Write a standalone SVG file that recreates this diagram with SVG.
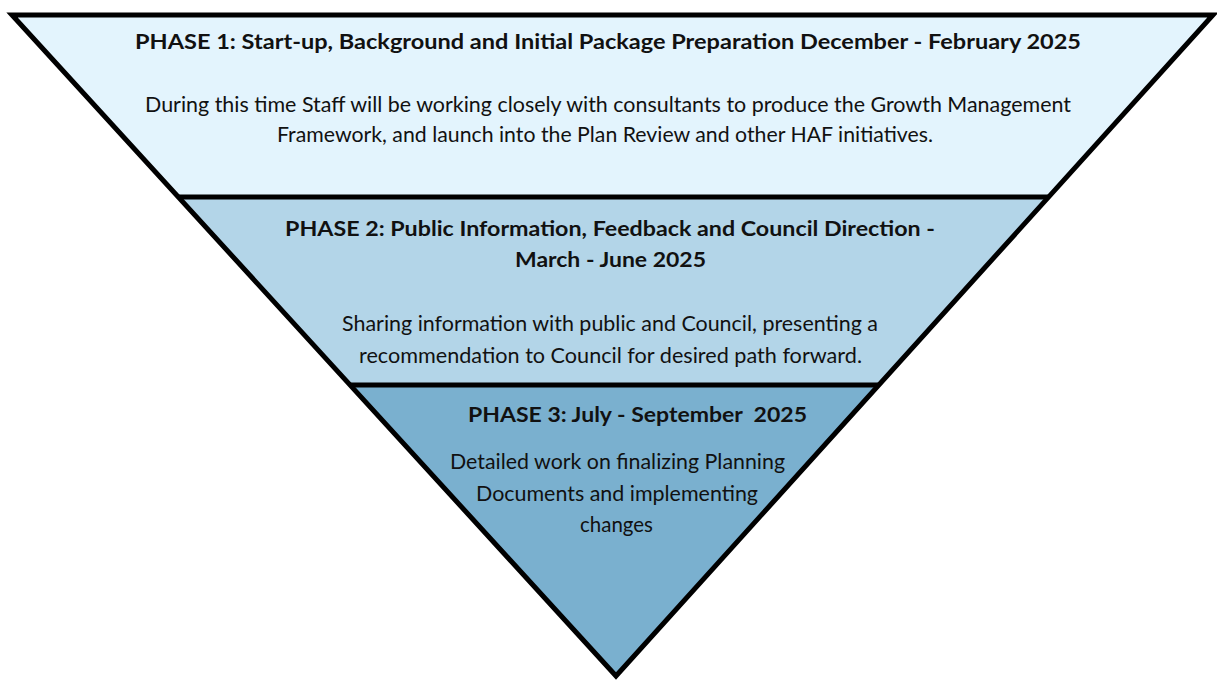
<svg xmlns="http://www.w3.org/2000/svg" width="1217" height="683" viewBox="0 0 1217 683">
<style>
.t{font-family:Lato,"Open Sans","Liberation Sans",sans-serif;font-weight:700;font-size:21.5px;fill:#111}
.b{font-family:Lato,"Open Sans","Liberation Sans",sans-serif;font-weight:400;font-size:22px;fill:#111}
.ln{stroke:#000;stroke-width:5;fill:none;stroke-linejoin:miter}
</style>
<rect width="1217" height="683" fill="#fff"/>
<g id="phase1">
<polygon points="12,15 1213,15 1048.6,197 178.3,197" fill="#E3F4FD"/>
<text class="t" x="135" y="49" textLength="946" lengthAdjust="spacingAndGlyphs">PHASE 1: Start-up, Background and Initial Package Preparation December - February 2025</text>
<text class="b" x="145" y="112" textLength="926" lengthAdjust="spacingAndGlyphs">During this time Staff will be working closely with consultants to produce the Growth Management</text>
<text class="b" x="277" y="142" textLength="656" lengthAdjust="spacingAndGlyphs">Framework, and launch into the Plan Review and other HAF initiatives.</text>
</g>
<g id="phase2">
<polygon points="178.3,197 1048.6,197 879,385 350.1,385" fill="#B3D5E8"/>
<text class="t" x="285" y="236" textLength="650" lengthAdjust="spacingAndGlyphs">PHASE 2: Public Information, Feedback and Council Direction -</text>
<text class="t" x="515" y="267" textLength="191" lengthAdjust="spacingAndGlyphs">March - June 2025</text>
<text class="b" x="342" y="331" textLength="536" lengthAdjust="spacingAndGlyphs">Sharing information with public and Council, presenting a</text>
<text class="b" x="359" y="363" textLength="503" lengthAdjust="spacingAndGlyphs">recommendation to Council for desired path forward.</text>
</g>
<g id="phase3">
<polygon points="350.1,385 879,385 616,676" fill="#7AB0CF"/>
<text class="t" x="468" y="422" textLength="339" lengthAdjust="spacingAndGlyphs" xml:space="preserve">PHASE 3: July - September  2025</text>
<text class="b" x="450" y="469" textLength="335" lengthAdjust="spacingAndGlyphs">Detailed work on finalizing Planning</text>
<text class="b" x="476" y="501" textLength="282" lengthAdjust="spacingAndGlyphs">Documents and implementing</text>
<text class="b" x="580" y="532" textLength="73" lengthAdjust="spacingAndGlyphs">changes</text>
</g>
<g id="outline">
<line class="ln" x1="178.3" y1="197" x2="1048.6" y2="197"/>
<line class="ln" x1="350.1" y1="385" x2="879" y2="385"/>
<polygon class="ln" points="12,15 1213,15 616,676"/>
</g>
</svg>
